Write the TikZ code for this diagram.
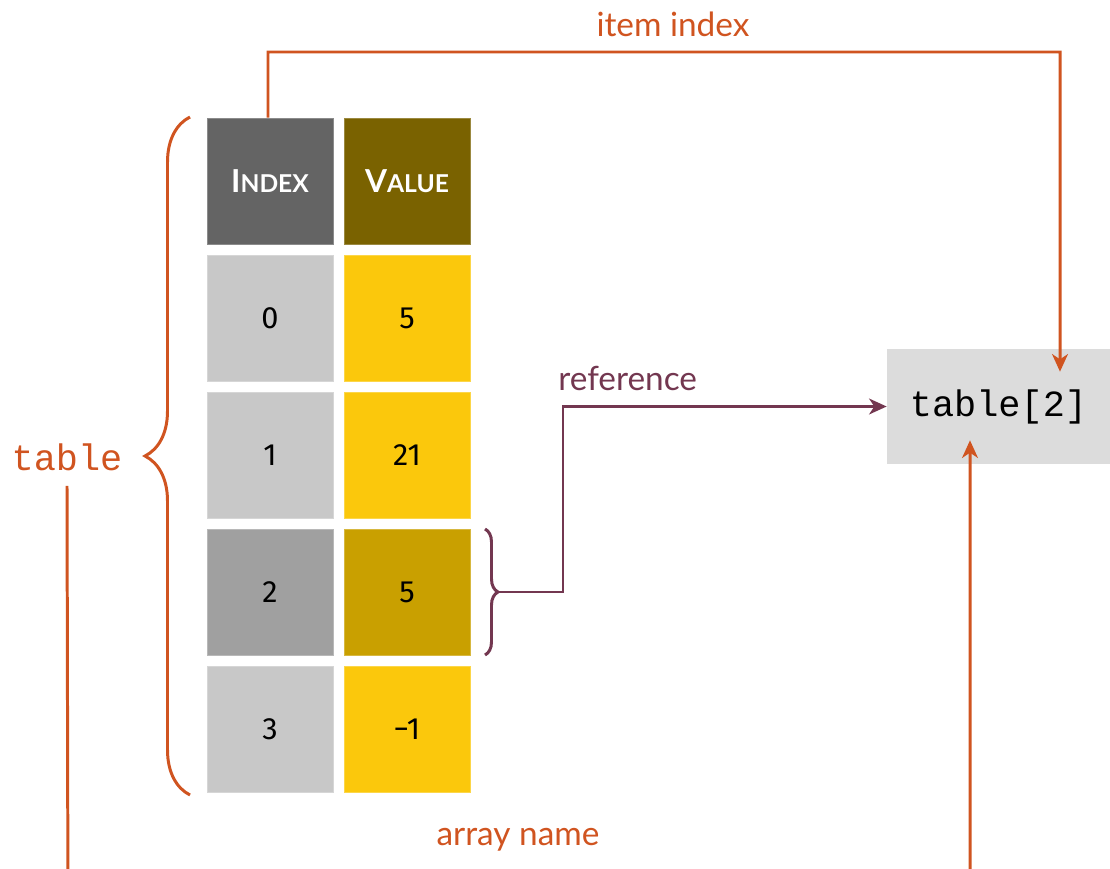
\documentclass[tikz,border=0pt]{standalone}
\usepackage{fontspec}
\setmainfont{Lato}
\newfontfamily\monof{Liberation Mono}
\newfontfamily\digf{Fira Sans}
\usetikzlibrary{arrows.meta,decorations.pathreplacing,calc}
\definecolor{orng}{RGB}{208,84,32}
\definecolor{purp}{RGB}{115,55,80}
\definecolor{hidx}{RGB}{100,100,100}
\definecolor{hval}{RGB}{122,98,0}
\definecolor{cidx}{RGB}{200,200,200}
\definecolor{cval}{RGB}{251,200,12}
\definecolor{sidx}{RGB}{160,160,160}
\definecolor{sval}{RGB}{201,160,0}
\definecolor{boxg}{RGB}{220,220,220}
\tikzset{
  cell/.style={fill=#1, draw=#1!75!white, line width=0.5pt, minimum width=2.52cm, minimum height=2.52cm, inner sep=0pt, font=\digf\fontsize{17.5}{17.5}\selectfont},
  hcell/.style={cell=#1, text=white, font=\bfseries},
  oline/.style={draw=orng, line width=1.7pt},
  pline/.style={draw=purp, line width=1.7pt},
  tip/.style={-{Stealth[length=10pt,width=9pt,inset=3pt]}},
  lbl/.style={font=\fontsize{19}{19}\selectfont},
  mono/.style={font=\monof\fontsize{21}{21}\selectfont},
}
\newcommand{\fsc}[2]{{\fontsize{18}{18}\selectfont #1\fontsize{14}{14}\selectfont #2}}
\begin{document}
\begin{tikzpicture}[x=0.02cm,y=-0.02cm]
\useasboundingbox (0,0) rectangle (1110,869);
\clip (0,0) rectangle (1110,869);
% headers
\node[hcell=hidx] (h0) at (270,181) {\fsc{I}{NDEX}};
\node[hcell=hval] (h1) at (407,181) {\fsc{V}{ALUE}};
% rows
\node[cell=cidx] (i0) at (270,318) {0};
\node[cell=cval] (v0) at (407,318) {5};
\node[cell=cidx] (i1) at (270,455) {1};
\node[cell=cval] (v1) at (407,455) {21};
\node[cell=sidx] (i2) at (270,592) {2};
\node[cell=sval] (v2) at (407,592) {5};
\node[cell=cidx] (i3) at (270,729) {3};
\node[cell=cval] (v3) at (407,729) {−1};
% target box
\node[fill=boxg, minimum width=4.46cm, minimum height=2.3cm, inner sep=0pt, mono] (t2) at (998.5,406.5) {table[2]};
% array name label
\node[text=orng, mono, inner sep=0pt] (tname) at (67,457) {table};
% big brace
\draw[oline, decorate, decoration={brace, amplitude=0.9cm}] (190,795) -- (190,117);
% small brace
\draw[pline, decorate, decoration={brace, amplitude=0.26cm}] (485,529) -- (485,655);
\coordinate (sbtip) at (498,592);
% item index connector
\draw[oline, tip] ([xshift=-0.04cm]h0.north) -- (268,52) -| ($(t2.north)+(61.5,23)$);
\node[lbl, text=orng] (lii) at (673,24) {item index};
% reference connector
\draw[pline, tip] (sbtip) -- (563,592) |- (t2.west);
\node[lbl, text=purp, anchor=base west, inner sep=0pt] (lref) at (558,390) {reference};
% array name connector
\draw[oline, tip] ([yshift=-0.3cm]tname.south) -- (68,920) -| ($(t2.south)+(-28.5,-24)$);
\node[lbl, text=orng] (lan) at (518,840) {array name};
\end{tikzpicture}
\end{document}
